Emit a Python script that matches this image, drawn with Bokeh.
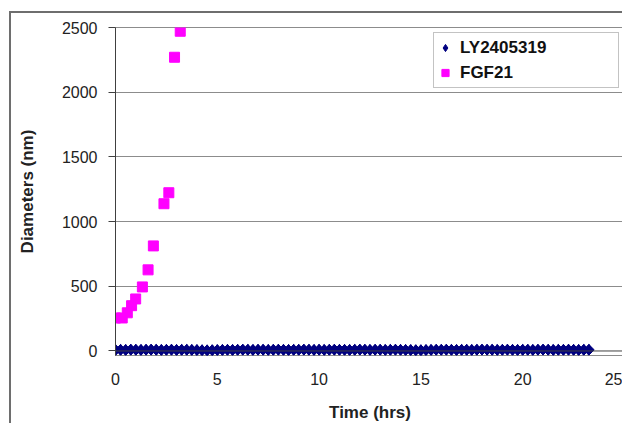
from bokeh.plotting import figure
from bokeh.models import Range1d, FixedTicker, Legend, LegendItem, Span
from bokeh.embed import file_html
from bokeh.resources import INLINE

# ---- data ----
ly_time = [0, 0.25, 0.5, 0.75, 1, 1.25, 1.5, 1.75, 2, 2.25,
           2.5, 2.75, 3, 3.25, 3.5, 3.75, 4, 4.25, 4.5, 4.75,
           5, 5.25, 5.5, 5.75, 6, 6.25, 6.5, 6.75, 7, 7.25,
           7.5, 7.75, 8, 8.25, 8.5, 8.75, 9, 9.25, 9.5, 9.75,
           10, 10.25, 10.5, 10.75, 11, 11.25, 11.5, 11.75, 12, 12.25,
           12.5, 12.75, 13, 13.25, 13.5, 13.75, 14, 14.25, 14.5, 14.75,
           15, 15.25, 15.5, 15.75, 16, 16.25, 16.5, 16.75, 17, 17.25,
           17.5, 17.75, 18, 18.25, 18.5, 18.75, 19, 19.25, 19.5, 19.75,
           20, 20.25, 20.5, 20.75, 21, 21.25, 21.5, 21.75, 22, 22.25,
           22.5, 22.75, 23, 23.25]
ly_diam = [8, 9, 8, 10, 9, 8, 9, 10, 9, 8,
           9, 10, 8, 9, 9, 8, 7, 6, 5, 6,
           7, 8, 9, 8, 9, 10, 9, 8, 9, 9,
           8, 9, 10, 9, 8, 9, 9, 10, 9, 8,
           9, 8, 9, 10, 9, 9, 8, 9, 10, 9,
           8, 9, 9, 8, 9, 10, 9, 8, 7, 6,
           6, 7, 8, 9, 9, 10, 9, 8, 9, 9,
           8, 9, 10, 9, 9, 8, 9, 10, 9, 8,
           9, 9, 8, 9, 10, 9, 8, 9, 9, 10,
           9, 8, 9, 9]

fgf_time = [0.0, 0.33, 0.58, 0.79, 0.99, 1.32, 1.60, 1.86, 2.38, 2.62, 2.90, 3.18]
fgf_diam = [255, 255, 295, 350, 402, 495, 627, 812, 1138, 1223, 2270, 2471]

x_ticks = [0, 5, 10, 15, 20, 25]
y_ticks = [0, 500, 1000, 1500, 2000, 2500]

series_names = ["LY2405319", "FGF21"]
x_title = "Time (hrs)"
y_title = "Diameters (nm)"

FONT = "Liberation Sans"
NAVY = "#000080"
MAGENTA = "#ff00ff"

p = figure(width=613, height=412, output_backend="svg", toolbar_location=None,
           x_range=Range1d(x_ticks[0], x_ticks[-1]), y_range=Range1d(-35, y_ticks[-1]),
           min_border_left=104, min_border_right=0,
           min_border_top=14, min_border_bottom=70)
p.styles = {"border-left": "2px solid #6e6e6e", "border-top": "2px solid #6e6e6e",
            "margin-left": "9px", "margin-top": "11px"}

p.background_fill_color = "white"
p.border_fill_color = "white"
p.outline_line_color = "#8c8c8c"
p.outline_line_width = 1

# grid
p.xgrid.visible = False
p.ygrid.ticker = FixedTicker(ticks=y_ticks[1:])
p.ygrid.grid_line_color = "#8c8c8c"
p.ygrid.grid_line_width = 1

# y axis
ya = p.yaxis[0]
ya.ticker = FixedTicker(ticks=y_ticks)
ya.axis_line_color = "#404040"
ya.major_tick_line_color = "#404040"
ya.major_tick_out = 7
ya.major_tick_in = 0
ya.minor_tick_line_color = None
ya.major_label_standoff = 11
ya.major_label_text_font = FONT
ya.major_label_text_font_size = "16px"
ya.major_label_text_color = "#222222"
ya.axis_label = y_title
ya.axis_label_text_font = FONT
ya.axis_label_text_font_size = "17px"
ya.axis_label_text_font_style = "bold"
ya.axis_label_text_color = "#222222"
ya.axis_label_standoff = 22

# x axis
xa = p.xaxis[0]
xa.ticker = FixedTicker(ticks=x_ticks)
xa.axis_line_color = None
xa.major_tick_line_color = None
xa.minor_tick_line_color = None
xa.major_tick_out = 0
xa.major_tick_in = 0
xa.major_label_standoff = 17
xa.major_label_text_font = FONT
xa.major_label_text_font_size = "16px"
xa.major_label_text_color = "#222222"
xa.axis_label = x_title
xa.axis_label_text_font = FONT
xa.axis_label_text_font_size = "17px"
xa.axis_label_text_font_style = "bold"
xa.axis_label_text_color = "#222222"
xa.axis_label_standoff = 15

# x axis line at y = 0
p.add_layout(Span(location=0, dimension="width", line_color="#404040", line_width=1))

# LY2405319: Excel-style diamonds (diamond marker + a square turned 45 degrees)
r_ly = p.scatter(ly_time, ly_diam, marker="diamond", size=11,
                 fill_color=NAVY, line_color=NAVY)
p.scatter(ly_time, ly_diam, marker="square", size=7.5, angle=0.785398,
          fill_color=NAVY, line_color=NAVY)
r_fgf = p.scatter(fgf_time, fgf_diam, marker="square", size=10,
                  fill_color=MAGENTA, line_color=MAGENTA)

legend = Legend(items=[LegendItem(label=series_names[0], renderers=[r_ly]),
                       LegendItem(label=series_names[1], renderers=[r_fgf])],
                location="top_right", margin=5, padding=2, spacing=0,
                glyph_width=18, glyph_height=25, label_height=25,
                label_width=156, label_standoff=6,
                label_text_font=FONT, label_text_font_size="17px",
                label_text_font_style="bold", label_text_color="#111111",
                border_line_color="#888888", border_line_width=1.5,
                background_fill_color="white", background_fill_alpha=1)
p.add_layout(legend)

open("out.html", "w").write(file_html(p, INLINE))
